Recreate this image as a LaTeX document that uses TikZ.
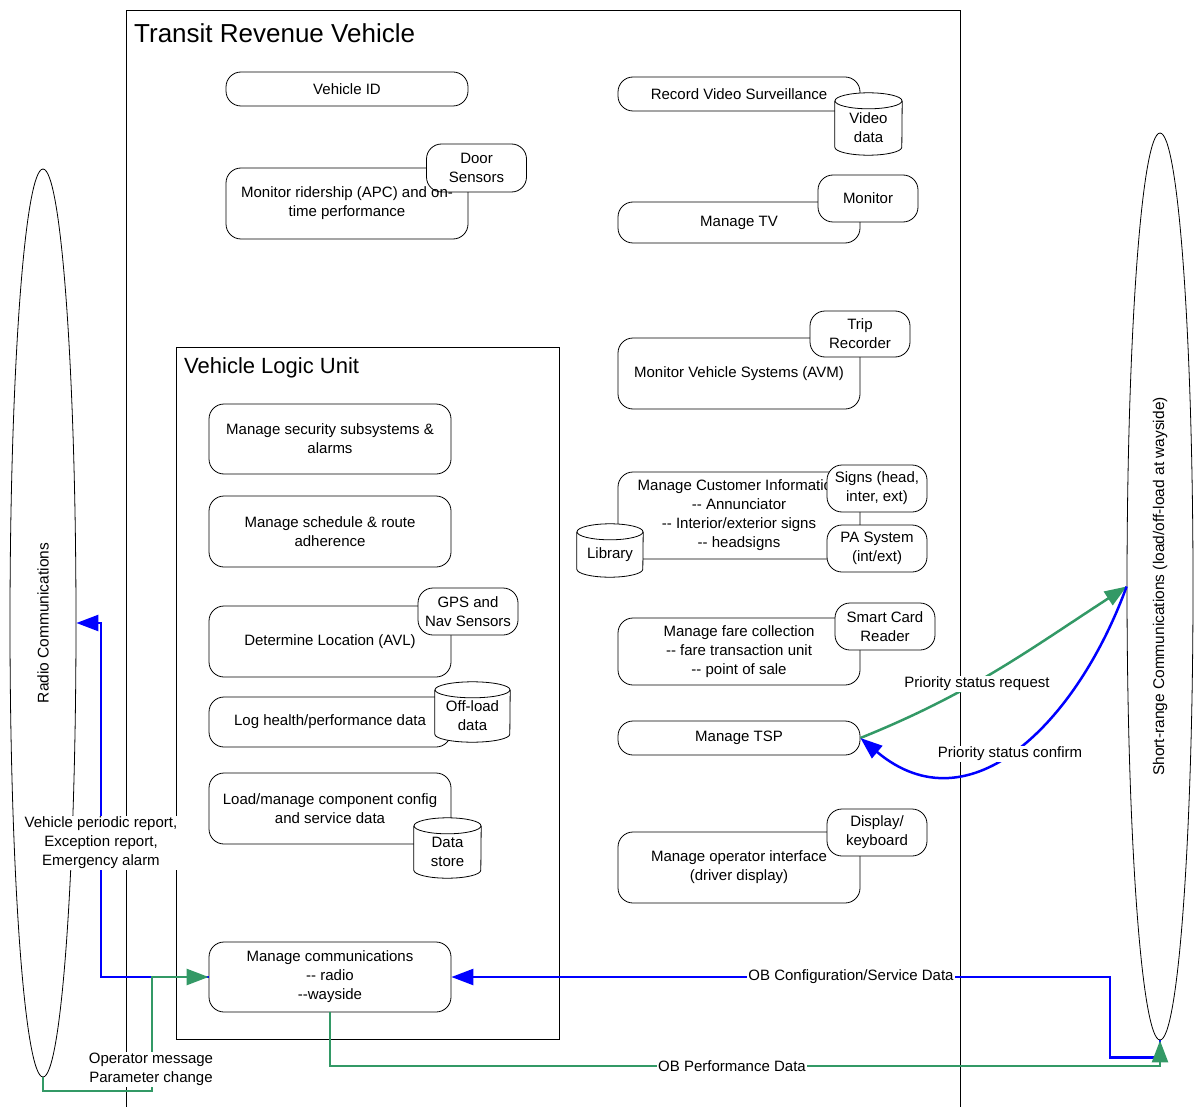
\documentclass[tikz,border=0pt]{standalone}
\usepackage{fontspec}
\setmainfont{Liberation Sans}
\usetikzlibrary{arrows.meta,shapes.geometric}

\definecolor{linkblue}{RGB}{0,0,255}
\definecolor{linkgreen}{RGB}{51,153,102}

\newcommand\dd{-{}-}

\tikzset{
  txt/.style={font=\fontsize{15}{19}\selectfont, align=center, inner sep=0pt},
  bigbox/.style={txt, draw, fill=white, line width=0.8pt, rounded corners=15pt,
                 minimum width=242pt},
  smallbox/.style={txt, draw, fill=white, line width=0.8pt, rounded corners=15pt,
                 minimum width=100pt},
  drumbase/.style={inner sep=0pt},
  frame/.style={draw, line width=0.8pt},
  commzone/.style={draw, ellipse, line width=0.8pt, inner sep=0pt, minimum width=66pt},
  tip/.style={-{Triangle[length=22pt,width=16pt]}},
  blueline/.style={draw=linkblue, line width=2.5pt, tip},
  greenline/.style={draw=linkgreen, line width=2.5pt, tip},
  lbl/.style={txt, fill=white, inner sep=1.5pt},
}

% data store drum: name, centre x, centre y, width, height, text
\newcommand\drum[6]{%
  \node[drumbase, minimum width=#4pt, minimum height=#5pt] (#1) at (#2,#3) {};
  \path[fill=white] ([yshift=-8pt]#1.north west) -- ([yshift=8pt]#1.south west)
     arc[start angle=180, end angle=360, x radius=#4pt/2, y radius=8pt]
     -- ([yshift=-8pt]#1.north east) -- cycle;
  \draw[line width=0.8pt] ([yshift=-8pt]#1.north west) -- ([yshift=8pt]#1.south west)
     arc[start angle=180, end angle=360, x radius=#4pt/2, y radius=8pt]
     -- ([yshift=-8pt]#1.north east);
  \draw[line width=0.8pt, fill=white] ([yshift=-8pt]#1.north)
     ellipse[x radius=#4pt/2, y radius=8pt];
  \node[txt] (#1-text) at (#2,#3+4) {#6};
}

\begin{document}
\begin{tikzpicture}[x=1pt, y=-1pt]
\useasboundingbox (0,0) rectangle (1196,1107);

% vehicle and logic unit frames
\draw[frame] (126,1107) -- (126,10) -- (960,10) -- (960,1107);
\node[anchor=west, inner sep=0pt, font=\fontsize{26}{30}\selectfont] (title) at (134,33) {Transit Revenue Vehicle};
\draw[frame] (176,347) rectangle (559,1039);
\node[anchor=west, inner sep=0pt, font=\fontsize{22}{26}\selectfont] (vlutitle) at (184,368) {Vehicle Logic Unit};

% communication zones
\node[commzone, minimum height=908pt] (radio) at (43,623) {};
\node[txt, rotate=90, font=\fontsize{15.5}{19}\selectfont] (radiotext) at (43,623) {Radio Communications};
\node[commzone, minimum height=907pt] (srange) at (1160,586.5) {};
\node[txt, rotate=90, font=\fontsize{15.5}{19}\selectfont] (srangetext) at (1160,586.5) {Short-range Communications (load/off-load at wayside)};

% vehicle functions, left column
\node[bigbox, minimum height=34pt] (vid) at (347,89) {Vehicle ID};
\node[bigbox, minimum height=71pt] (rider) at (347,203.5) {};
\node[smallbox, minimum height=48pt] (door) at (476.5,168) {Door\\Sensors};
\node[txt] (ridertext) at (347,203) {Monitor ridership (APC) and on-\\time performance};

% logic unit functions
\node[bigbox, minimum height=70pt] (sec) at (330,439) {Manage security subsystems \&\\alarms};
\node[bigbox, minimum height=71pt] (sched) at (330,531.5) {Manage schedule \& route\\adherence};
\node[bigbox, minimum height=71pt] (loc) at (330,641.5) {Determine Location (AVL)};
\node[smallbox, minimum height=47pt] (gps) at (468,611.5) {GPS and\\Nav Sensors};
\node[bigbox, minimum height=50pt] (log) at (330,722) {Log health/performance data};
\node[bigbox, minimum height=71pt] (load) at (330,808.5) {Load/manage component config\\and service data};
\node[bigbox, minimum height=70pt] (comm) at (330,977) {Manage communications\\\dd\ radio\\\dd wayside};
\drum{offload}{472.5}{712}{75}{60}{Off-load\\data}
\drum{dstore}{447.5}{848}{67}{60}{Data\\store}

% vehicle functions, right column
\node[bigbox, minimum height=34pt] (video) at (739,94) {Record Video Surveillance};
\drum{vdata}{868.5}{124}{67}{62}{Video\\data}
\node[bigbox, minimum height=41pt] (tv) at (739,222.5) {Manage TV};
\node[smallbox, minimum height=47pt] (monitor) at (868,198.5) {Monitor};
\node[bigbox, minimum height=71pt] (avm) at (739,373.5) {Monitor Vehicle Systems (AVM)};
\node[smallbox, minimum height=46pt] (trip) at (860,334) {Trip\\Recorder};
\node[bigbox, minimum height=87pt] (cust) at (739,515.5) {Manage Customer Information\\\dd\ Annunciator\\\dd\ Interior/exterior signs\\\dd\ headsigns};
\node[smallbox, minimum height=47pt] (signs) at (877,488.5) {Signs (head,\\inter, ext)};
\node[smallbox, minimum height=47pt] (pa) at (877,548.5) {PA System\\(int/ext)};
\drum{library}{610}{550.5}{66}{53}{Library}
\node[bigbox, minimum height=67pt] (fare) at (739,651.5) {Manage fare collection\\\dd\ fare transaction unit\\\dd\ point of sale};
\node[smallbox, minimum height=47pt] (card) at (885,626.5) {Smart Card\\Reader};
\node[bigbox, minimum height=34pt] (tsp) at (739,738) {Manage TSP};
\node[bigbox, minimum height=71pt] (opi) at (739,867.5) {Manage operator interface\\(driver display)};
\node[smallbox, minimum height=47pt] (disp) at (877,832.5) {Display/\\keyboard};

% bend points of the data links
\coordinate (radiotap) at (101,623);
\coordinate (opbend) at (152,1091);
\coordinate (cfgbend) at (1110,977);
\coordinate (perfbend) at (1160,1066);

% radio links
\draw[blueline] (comm.west) -| (radiotap) -- (radio.east);
\draw[greenline] (radio.south) |- (opbend) |- (comm.west);

% wayside links
\draw[blueline] (srange.south) -- ++(0,17) -| (cfgbend) -- (comm.east);
\draw[greenline] (comm.south) |- (perfbend) -- (srange.south);

% signal priority exchange
\draw[greenline] (tsp.east) to[out=22, in=-147] (srange.west);
\draw[blueline] (srange.west) to[out=-110, in=-40, looseness=1.2] (tsp.east);

% link labels
\node[lbl] (lblreport) at (101,843) {Vehicle periodic report,\\Exception report,\\Emergency alarm};
\node[lbl] (lblopmsg) at (151,1069.5) {Operator message\\Parameter change};
\node[lbl] (lblcfg) at (851,977) {OB Configuration/Service Data};
\node[lbl] (lblperf) at (732,1066) {OB Performance Data};
\node[lbl] (lblreq) at (977,684) {Priority status request};
\node[lbl] (lblconf) at (1010,754) {Priority status confirm};
\end{tikzpicture}
\end{document}
